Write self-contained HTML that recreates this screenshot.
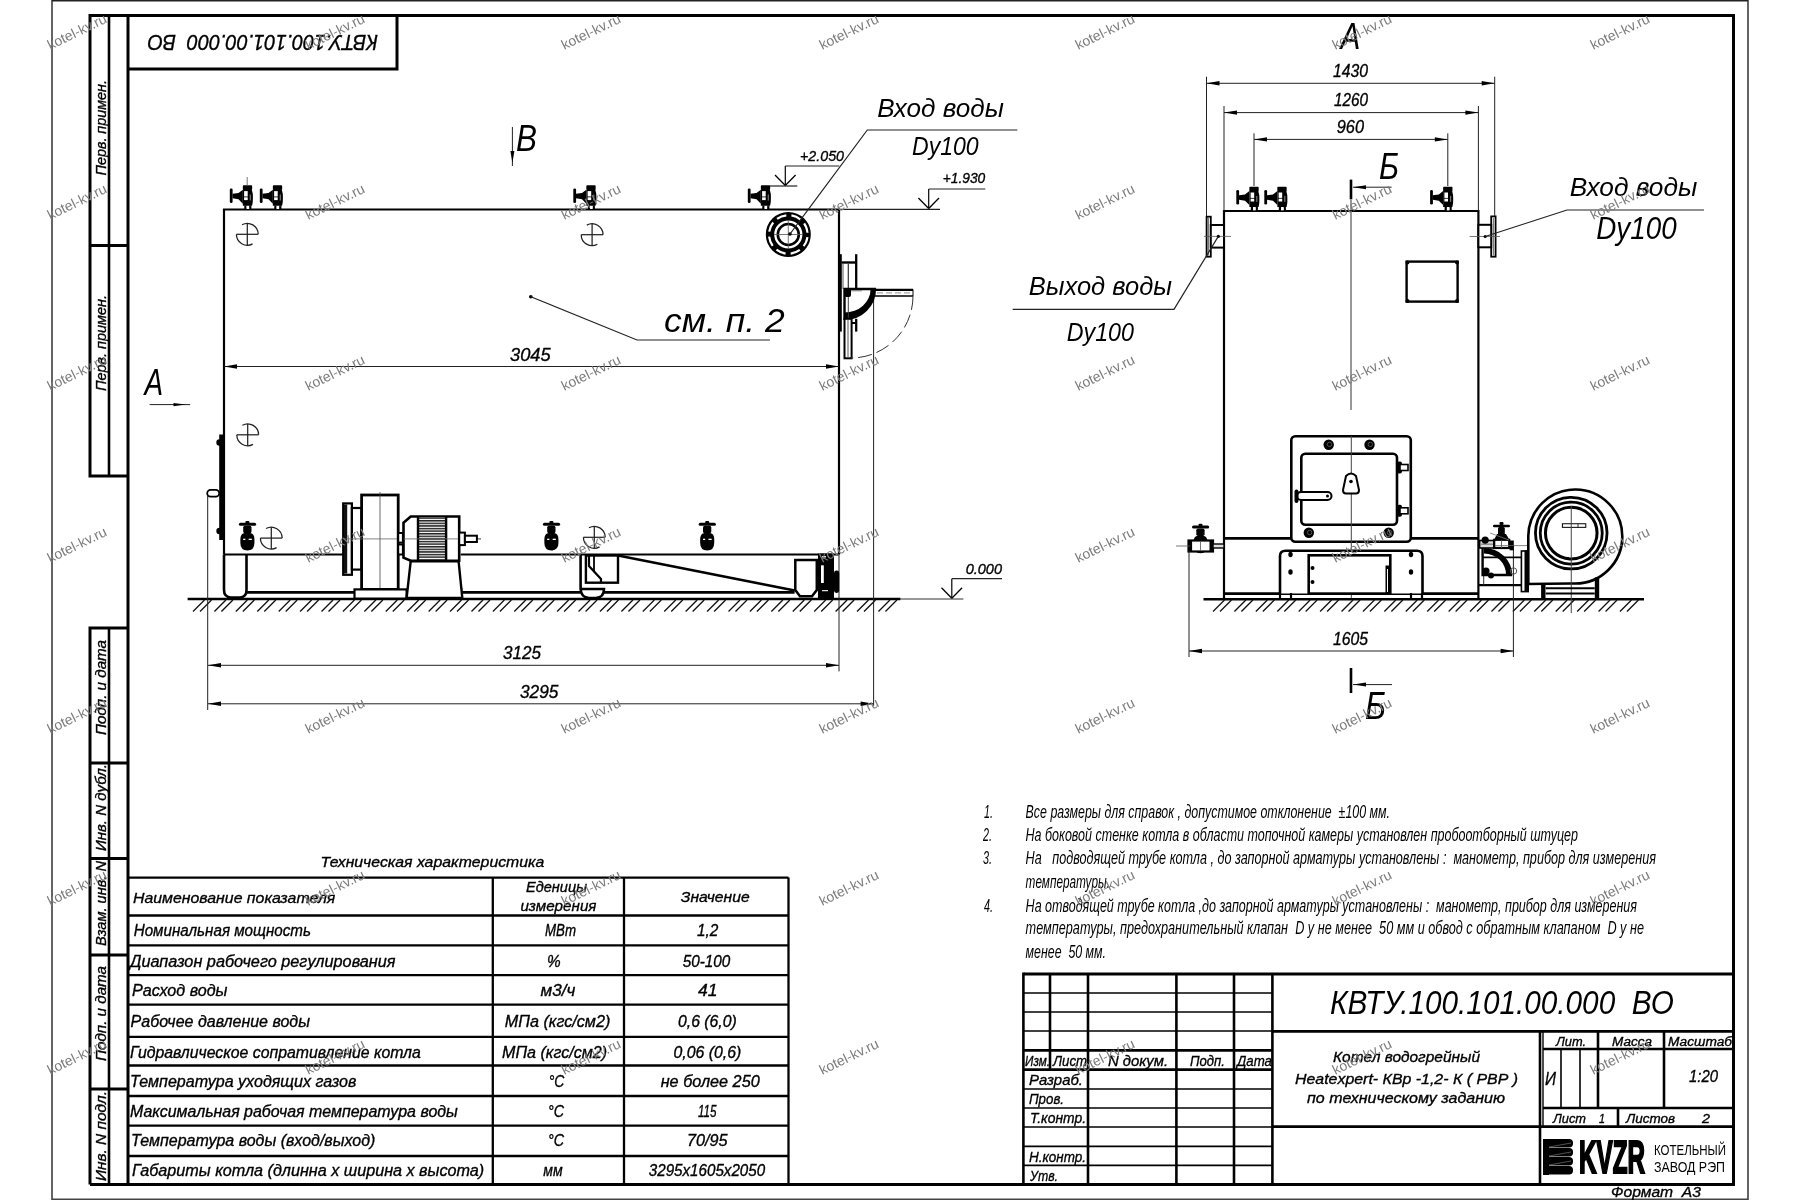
<!DOCTYPE html>
<html><head><meta charset="utf-8"><title>КВТУ.100.101.00.000 ВО</title>
<style>
html,body{margin:0;padding:0;background:#fff;width:1800px;height:1200px;overflow:hidden}
svg{display:block}
text{font-family:"Liberation Sans",sans-serif;white-space:pre}
.it{font-style:italic;stroke:#000;stroke-width:0.35px}
.nt{font-style:italic}
.itb{font-style:italic}
.bd{font-weight:bold}
.rg{font-style:normal}
.wm{fill:#7c7c7c}
</style></head><body>
<svg width="1800" height="1200" viewBox="0 0 1800 1200" stroke-linecap="butt">
<defs>
<pattern id="ribs" width="4" height="2.6" patternUnits="userSpaceOnUse">
<rect width="4" height="2.6" fill="#fff"/><rect y="0" width="4" height="1.5" fill="#222"/>
</pattern>
</defs>
<rect width="1800" height="1200" fill="#fff"/>
<g style="will-change:transform" opacity="0.999">
<line x1="52" y1="0" x2="52" y2="1200" stroke="#111" stroke-width="1.3" />
<line x1="1748" y1="0" x2="1748" y2="1200" stroke="#111" stroke-width="1.3" />
<line x1="52" y1="0.6" x2="1748" y2="0.6" stroke="#222" stroke-width="1.6" />
<line x1="52" y1="1199.2" x2="1748" y2="1199.2" stroke="#444" stroke-width="1.6" />
<path d="M90,15.5 H1733.5 V1184.5 H90" stroke="#000" stroke-width="3.0" fill="none" />
<line x1="128" y1="15.5" x2="128" y2="1184.5" stroke="#000" stroke-width="3.0" />
<path d="M128,15.5 H90 V476 H128" stroke="#000" stroke-width="3.0" fill="none" />
<line x1="109" y1="15.5" x2="109" y2="476" stroke="#000" stroke-width="2.6" />
<line x1="90" y1="245.5" x2="128" y2="245.5" stroke="#000" stroke-width="3.0" />
<path d="M128,628 H90 V1184.5" stroke="#000" stroke-width="3.0" fill="none" />
<line x1="109" y1="628" x2="109" y2="1184.5" stroke="#000" stroke-width="2.6" />
<line x1="90" y1="763" x2="128" y2="763" stroke="#000" stroke-width="3.0" />
<line x1="90" y1="858.5" x2="128" y2="858.5" stroke="#000" stroke-width="3.0" />
<line x1="90" y1="955" x2="128" y2="955" stroke="#000" stroke-width="3.0" />
<line x1="90" y1="1089" x2="128" y2="1089" stroke="#000" stroke-width="3.0" />
<path d="M128,69 H397 V15.5" stroke="#000" stroke-width="3.0" fill="none" />
<text x="105.75" y="175.5" font-size="14.4" class="it" text-anchor="start" fill="#000" textLength="95.5" lengthAdjust="spacingAndGlyphs" transform="rotate(-90 105.75 175.5)" >Перв. примен.</text>
<text x="105.75" y="391" font-size="14.4" class="it" text-anchor="start" fill="#000" textLength="96" lengthAdjust="spacingAndGlyphs" transform="rotate(-90 105.75 391)" >Перв. примен.</text>
<text x="105.75" y="735" font-size="14.4" class="it" text-anchor="start" fill="#000" textLength="95" lengthAdjust="spacingAndGlyphs" transform="rotate(-90 105.75 735)" >Подп. и дата</text>
<text x="105.75" y="851" font-size="14.4" class="it" text-anchor="start" fill="#000" textLength="87" lengthAdjust="spacingAndGlyphs" transform="rotate(-90 105.75 851)" >Инв. N дубл.</text>
<text x="105.75" y="946" font-size="14.4" class="it" text-anchor="start" fill="#000" textLength="85" lengthAdjust="spacingAndGlyphs" transform="rotate(-90 105.75 946)" >Взам. инв. N</text>
<text x="105.75" y="1061" font-size="14.4" class="it" text-anchor="start" fill="#000" textLength="95" lengthAdjust="spacingAndGlyphs" transform="rotate(-90 105.75 1061)" >Подп. и дата</text>
<text x="105.75" y="1181" font-size="14.4" class="it" text-anchor="start" fill="#000" textLength="90" lengthAdjust="spacingAndGlyphs" transform="rotate(-90 105.75 1181)" >Инв. N подл.</text>
<text x="378" y="34.7" font-size="21.4" class="it" text-anchor="start" fill="#000" textLength="230.4" lengthAdjust="spacingAndGlyphs" transform="rotate(180 378 34.7)" >КВТУ.100.101.00.000  ВО</text>
<path d="M224,554.5 V209.5 H839 V554.5" stroke="#000" stroke-width="2.2" fill="none" />
<line x1="224" y1="554.5" x2="343" y2="554.5" stroke="#000" stroke-width="2.2" />
<line x1="460.7" y1="554.5" x2="839" y2="554.5" stroke="#000" stroke-width="2.2" />
<rect x="242.85" y="185.3" width="9.3" height="4.8" fill="#000" rx="0.8"/>
<path d="M242.85,189.7 H251.8 Q253.1,193.5 252.9,197.5 Q253.1,201.5 252.1,205.7 H242.85 Z" stroke="#000" stroke-width="0" fill="#000" />
<rect x="244.1" y="191.1" width="3.6" height="5.4" fill="#fff" rx="0"/>
<rect x="244.1" y="197.3" width="3.6" height="2.8" fill="#fff" rx="0"/>
<rect x="249.7" y="194.5" width="1.2" height="6" fill="#777" rx="0"/>
<rect x="244.3" y="205.5" width="2.3" height="4.3" fill="#000" rx="0"/>
<rect x="249.1" y="205.5" width="2.3" height="4.3" fill="#000" rx="0"/>
<rect x="246.6" y="206.0" width="2.5" height="3" fill="#fff" rx="0"/>
<rect x="229.8" y="188.5" width="2.8" height="14.6" fill="#000" rx="1.3"/>
<polygon points="232.5,193.8 238.5,193.0 242.85,189.7 242.85,203.7 238.5,199.3 232.5,198.3" stroke="#000" stroke-width="0" fill="#000" />
<rect x="272.85" y="185.3" width="9.3" height="4.8" fill="#000" rx="0.8"/>
<path d="M272.85,189.7 H281.8 Q283.1,193.5 282.9,197.5 Q283.1,201.5 282.1,205.7 H272.85 Z" stroke="#000" stroke-width="0" fill="#000" />
<rect x="274.1" y="191.1" width="3.6" height="5.4" fill="#fff" rx="0"/>
<rect x="274.1" y="197.3" width="3.6" height="2.8" fill="#fff" rx="0"/>
<rect x="279.7" y="194.5" width="1.2" height="6" fill="#777" rx="0"/>
<rect x="274.3" y="205.5" width="2.3" height="4.3" fill="#000" rx="0"/>
<rect x="279.1" y="205.5" width="2.3" height="4.3" fill="#000" rx="0"/>
<rect x="276.6" y="206.0" width="2.5" height="3" fill="#fff" rx="0"/>
<rect x="259.8" y="188.5" width="2.8" height="14.6" fill="#000" rx="1.3"/>
<polygon points="262.5,193.8 268.5,193.0 272.85,189.7 272.85,203.7 268.5,199.3 262.5,198.3" stroke="#000" stroke-width="0" fill="#000" />
<rect x="586.35" y="185.3" width="9.3" height="4.8" fill="#000" rx="0.8"/>
<path d="M586.35,189.7 H595.3 Q596.6,193.5 596.4,197.5 Q596.6,201.5 595.6,205.7 H586.35 Z" stroke="#000" stroke-width="0" fill="#000" />
<rect x="587.6" y="191.1" width="3.6" height="5.4" fill="#fff" rx="0"/>
<rect x="587.6" y="197.3" width="3.6" height="2.8" fill="#fff" rx="0"/>
<rect x="593.2" y="194.5" width="1.2" height="6" fill="#777" rx="0"/>
<rect x="587.8" y="205.5" width="2.3" height="4.3" fill="#000" rx="0"/>
<rect x="592.6" y="205.5" width="2.3" height="4.3" fill="#000" rx="0"/>
<rect x="590.1" y="206.0" width="2.5" height="3" fill="#fff" rx="0"/>
<rect x="573.3" y="188.5" width="2.8" height="14.6" fill="#000" rx="1.3"/>
<polygon points="576,193.8 582,193.0 586.35,189.7 586.35,203.7 582,199.3 576,198.3" stroke="#000" stroke-width="0" fill="#000" />
<rect x="760.85" y="185.3" width="9.3" height="4.8" fill="#000" rx="0.8"/>
<path d="M760.85,189.7 H769.8 Q771.1,193.5 770.9,197.5 Q771.1,201.5 770.1,205.7 H760.85 Z" stroke="#000" stroke-width="0" fill="#000" />
<rect x="762.1" y="191.1" width="3.6" height="5.4" fill="#fff" rx="0"/>
<rect x="762.1" y="197.3" width="3.6" height="2.8" fill="#fff" rx="0"/>
<rect x="767.7" y="194.5" width="1.2" height="6" fill="#777" rx="0"/>
<rect x="762.3" y="205.5" width="2.3" height="4.3" fill="#000" rx="0"/>
<rect x="767.1" y="205.5" width="2.3" height="4.3" fill="#000" rx="0"/>
<rect x="764.6" y="206.0" width="2.5" height="3" fill="#fff" rx="0"/>
<rect x="747.8" y="188.5" width="2.8" height="14.6" fill="#000" rx="1.3"/>
<polygon points="750.5,193.8 756.5,193.0 760.85,189.7 760.85,203.7 756.5,199.3 750.5,198.3" stroke="#000" stroke-width="0" fill="#000" />
<line x1="247.2" y1="177" x2="247.2" y2="186" stroke="#555" stroke-width="0.8" />
<path d="M242.01,224.76 A10.9,10.9 0 0 1 258.20,234.30 M252.59,243.84 A10.9,10.9 0 0 1 236.40,234.30" stroke="#222" stroke-width="1.25" fill="none" />
<line x1="236.4" y1="234.3" x2="258.2" y2="234.3" stroke="#222" stroke-width="1.25" />
<line x1="247.3" y1="223.4" x2="247.3" y2="245.20000000000002" stroke="#222" stroke-width="1.25" />
<path d="M586.81,225.16 A10.9,10.9 0 0 1 603.00,234.70 M597.39,244.24 A10.9,10.9 0 0 1 581.20,234.70" stroke="#222" stroke-width="1.25" fill="none" />
<line x1="581.1999999999999" y1="234.70000000000002" x2="602.9999999999999" y2="234.70000000000002" stroke="#222" stroke-width="1.25" />
<line x1="592.0999999999999" y1="223.8" x2="592.0999999999999" y2="245.60000000000002" stroke="#222" stroke-width="1.25" />
<path d="M242.41,425.26 A10.9,10.9 0 0 1 258.60,434.80 M252.99,444.34 A10.9,10.9 0 0 1 236.80,434.80" stroke="#222" stroke-width="1.25" fill="none" />
<line x1="236.8" y1="434.8" x2="258.6" y2="434.8" stroke="#222" stroke-width="1.25" />
<line x1="247.70000000000002" y1="423.90000000000003" x2="247.70000000000002" y2="445.7" stroke="#222" stroke-width="1.25" />
<path d="M266.01,528.56 A10.9,10.9 0 0 1 282.20,538.10 M276.59,547.64 A10.9,10.9 0 0 1 260.40,538.10" stroke="#222" stroke-width="1.25" fill="none" />
<line x1="260.40000000000003" y1="538.0999999999999" x2="282.2" y2="538.0999999999999" stroke="#222" stroke-width="1.25" />
<line x1="271.3" y1="527.1999999999999" x2="271.3" y2="548.9999999999999" stroke="#222" stroke-width="1.25" />
<path d="M589.01,527.76 A10.9,10.9 0 0 1 605.20,537.30 M599.59,546.84 A10.9,10.9 0 0 1 583.40,537.30" stroke="#222" stroke-width="1.25" fill="none" />
<line x1="583.4" y1="537.3" x2="605.1999999999999" y2="537.3" stroke="#222" stroke-width="1.25" />
<line x1="594.3" y1="526.4" x2="594.3" y2="548.1999999999999" stroke="#222" stroke-width="1.25" />
<circle cx="788.3" cy="234.5" r="18.3" stroke="#000" stroke-width="8.4" fill="#fff" />
<circle cx="788.3" cy="234.5" r="19.3" stroke="#fff" stroke-width="2.2" fill="none" stroke-dasharray="9.9 5.26" stroke-dashoffset="-2.63"/>
<circle cx="788.3" cy="234.5" r="10.5" stroke="#000" stroke-width="2.6" fill="none" />
<line x1="774" y1="234.5" x2="802.5" y2="234.5" stroke="#555" stroke-width="0.8" />
<line x1="788.3" y1="220" x2="788.3" y2="249" stroke="#555" stroke-width="0.8" />
<circle cx="790" cy="234" r="1.8" stroke="#000" stroke-width="0" fill="#000" />
<line x1="187.6" y1="599" x2="900.4" y2="599" stroke="#000" stroke-width="2.4" />
<line x1="900" y1="599" x2="963.4" y2="599" stroke="#333" stroke-width="1.0" />
<line x1="193" y1="611.5" x2="204.5" y2="600.0" stroke="#111" stroke-width="1.3" />
<line x1="200.0" y1="611.5" x2="211.5" y2="600.0" stroke="#111" stroke-width="1.3" />
<line x1="214.42" y1="611.5" x2="225.92" y2="600.0" stroke="#111" stroke-width="1.3" />
<line x1="221.42" y1="611.5" x2="232.92" y2="600.0" stroke="#111" stroke-width="1.3" />
<line x1="235.84" y1="611.5" x2="247.34" y2="600.0" stroke="#111" stroke-width="1.3" />
<line x1="242.84" y1="611.5" x2="254.34" y2="600.0" stroke="#111" stroke-width="1.3" />
<line x1="257.26" y1="611.5" x2="268.76" y2="600.0" stroke="#111" stroke-width="1.3" />
<line x1="264.26" y1="611.5" x2="275.76" y2="600.0" stroke="#111" stroke-width="1.3" />
<line x1="278.68" y1="611.5" x2="290.18" y2="600.0" stroke="#111" stroke-width="1.3" />
<line x1="285.68" y1="611.5" x2="297.18" y2="600.0" stroke="#111" stroke-width="1.3" />
<line x1="300.1" y1="611.5" x2="311.6" y2="600.0" stroke="#111" stroke-width="1.3" />
<line x1="307.1" y1="611.5" x2="318.6" y2="600.0" stroke="#111" stroke-width="1.3" />
<line x1="321.52" y1="611.5" x2="333.02" y2="600.0" stroke="#111" stroke-width="1.3" />
<line x1="328.52" y1="611.5" x2="340.02" y2="600.0" stroke="#111" stroke-width="1.3" />
<line x1="342.94" y1="611.5" x2="354.44" y2="600.0" stroke="#111" stroke-width="1.3" />
<line x1="349.94" y1="611.5" x2="361.44" y2="600.0" stroke="#111" stroke-width="1.3" />
<line x1="364.36" y1="611.5" x2="375.86" y2="600.0" stroke="#111" stroke-width="1.3" />
<line x1="371.36" y1="611.5" x2="382.86" y2="600.0" stroke="#111" stroke-width="1.3" />
<line x1="385.78" y1="611.5" x2="397.28" y2="600.0" stroke="#111" stroke-width="1.3" />
<line x1="392.78" y1="611.5" x2="404.28" y2="600.0" stroke="#111" stroke-width="1.3" />
<line x1="407.2" y1="611.5" x2="418.7" y2="600.0" stroke="#111" stroke-width="1.3" />
<line x1="414.2" y1="611.5" x2="425.7" y2="600.0" stroke="#111" stroke-width="1.3" />
<line x1="428.62" y1="611.5" x2="440.12" y2="600.0" stroke="#111" stroke-width="1.3" />
<line x1="435.62" y1="611.5" x2="447.12" y2="600.0" stroke="#111" stroke-width="1.3" />
<line x1="450.04" y1="611.5" x2="461.54" y2="600.0" stroke="#111" stroke-width="1.3" />
<line x1="457.04" y1="611.5" x2="468.54" y2="600.0" stroke="#111" stroke-width="1.3" />
<line x1="471.46" y1="611.5" x2="482.96" y2="600.0" stroke="#111" stroke-width="1.3" />
<line x1="478.46" y1="611.5" x2="489.96" y2="600.0" stroke="#111" stroke-width="1.3" />
<line x1="492.88" y1="611.5" x2="504.38" y2="600.0" stroke="#111" stroke-width="1.3" />
<line x1="499.88" y1="611.5" x2="511.38" y2="600.0" stroke="#111" stroke-width="1.3" />
<line x1="514.3" y1="611.5" x2="525.8" y2="600.0" stroke="#111" stroke-width="1.3" />
<line x1="521.3" y1="611.5" x2="532.8" y2="600.0" stroke="#111" stroke-width="1.3" />
<line x1="535.72" y1="611.5" x2="547.22" y2="600.0" stroke="#111" stroke-width="1.3" />
<line x1="542.72" y1="611.5" x2="554.22" y2="600.0" stroke="#111" stroke-width="1.3" />
<line x1="557.14" y1="611.5" x2="568.64" y2="600.0" stroke="#111" stroke-width="1.3" />
<line x1="564.14" y1="611.5" x2="575.64" y2="600.0" stroke="#111" stroke-width="1.3" />
<line x1="578.56" y1="611.5" x2="590.06" y2="600.0" stroke="#111" stroke-width="1.3" />
<line x1="585.56" y1="611.5" x2="597.06" y2="600.0" stroke="#111" stroke-width="1.3" />
<line x1="599.98" y1="611.5" x2="611.48" y2="600.0" stroke="#111" stroke-width="1.3" />
<line x1="606.98" y1="611.5" x2="618.48" y2="600.0" stroke="#111" stroke-width="1.3" />
<line x1="621.4" y1="611.5" x2="632.9" y2="600.0" stroke="#111" stroke-width="1.3" />
<line x1="628.4" y1="611.5" x2="639.9" y2="600.0" stroke="#111" stroke-width="1.3" />
<line x1="642.82" y1="611.5" x2="654.32" y2="600.0" stroke="#111" stroke-width="1.3" />
<line x1="649.82" y1="611.5" x2="661.32" y2="600.0" stroke="#111" stroke-width="1.3" />
<line x1="664.24" y1="611.5" x2="675.74" y2="600.0" stroke="#111" stroke-width="1.3" />
<line x1="671.24" y1="611.5" x2="682.74" y2="600.0" stroke="#111" stroke-width="1.3" />
<line x1="685.66" y1="611.5" x2="697.16" y2="600.0" stroke="#111" stroke-width="1.3" />
<line x1="692.66" y1="611.5" x2="704.16" y2="600.0" stroke="#111" stroke-width="1.3" />
<line x1="707.08" y1="611.5" x2="718.58" y2="600.0" stroke="#111" stroke-width="1.3" />
<line x1="714.08" y1="611.5" x2="725.58" y2="600.0" stroke="#111" stroke-width="1.3" />
<line x1="728.5" y1="611.5" x2="740.0" y2="600.0" stroke="#111" stroke-width="1.3" />
<line x1="735.5" y1="611.5" x2="747.0" y2="600.0" stroke="#111" stroke-width="1.3" />
<line x1="749.92" y1="611.5" x2="761.42" y2="600.0" stroke="#111" stroke-width="1.3" />
<line x1="756.92" y1="611.5" x2="768.42" y2="600.0" stroke="#111" stroke-width="1.3" />
<line x1="771.34" y1="611.5" x2="782.84" y2="600.0" stroke="#111" stroke-width="1.3" />
<line x1="778.34" y1="611.5" x2="789.84" y2="600.0" stroke="#111" stroke-width="1.3" />
<line x1="792.76" y1="611.5" x2="804.26" y2="600.0" stroke="#111" stroke-width="1.3" />
<line x1="799.76" y1="611.5" x2="811.26" y2="600.0" stroke="#111" stroke-width="1.3" />
<line x1="814.18" y1="611.5" x2="825.68" y2="600.0" stroke="#111" stroke-width="1.3" />
<line x1="821.18" y1="611.5" x2="832.68" y2="600.0" stroke="#111" stroke-width="1.3" />
<line x1="835.6" y1="611.5" x2="847.1" y2="600.0" stroke="#111" stroke-width="1.3" />
<line x1="842.6" y1="611.5" x2="854.1" y2="600.0" stroke="#111" stroke-width="1.3" />
<line x1="857.02" y1="611.5" x2="868.52" y2="600.0" stroke="#111" stroke-width="1.3" />
<line x1="864.02" y1="611.5" x2="875.52" y2="600.0" stroke="#111" stroke-width="1.3" />
<line x1="878.44" y1="611.5" x2="889.94" y2="600.0" stroke="#111" stroke-width="1.3" />
<line x1="885.44" y1="611.5" x2="896.94" y2="600.0" stroke="#111" stroke-width="1.3" />
<line x1="207.7" y1="496" x2="207.7" y2="710" stroke="#222" stroke-width="1.0" />
<line x1="839" y1="554" x2="839" y2="671.4" stroke="#222" stroke-width="1.0" />
<line x1="873.6" y1="296" x2="873.6" y2="705.7" stroke="#222" stroke-width="1.0" />
<line x1="208" y1="665.3" x2="839" y2="665.3" stroke="#222" stroke-width="1.0" />
<polygon points="208,665.3 221.00,663.10 221.00,667.50" fill="#000"/>
<polygon points="839,665.3 826.00,667.50 826.00,663.10" fill="#000"/>
<line x1="208" y1="703.8" x2="873.6" y2="703.8" stroke="#222" stroke-width="1.0" />
<polygon points="208,703.8 221.00,701.60 221.00,706.00" fill="#000"/>
<polygon points="873.6,703.8 860.60,706.00 860.60,701.60" fill="#000"/>
<line x1="224" y1="366.5" x2="839" y2="366.5" stroke="#222" stroke-width="1.0" />
<polygon points="224,366.5 237.00,364.30 237.00,368.70" fill="#000"/>
<polygon points="839,366.5 826.00,368.70 826.00,364.30" fill="#000"/>
<text x="510" y="361" font-size="19.2" class="it" text-anchor="start" fill="#000" textLength="40.6" lengthAdjust="spacingAndGlyphs" >3045</text>
<text x="503" y="659" font-size="18.52" class="it" text-anchor="start" fill="#000" textLength="38" lengthAdjust="spacingAndGlyphs" >3125</text>
<text x="520" y="698" font-size="18.93" class="it" text-anchor="start" fill="#000" textLength="38.5" lengthAdjust="spacingAndGlyphs" >3295</text>
<path d="M224,554.5 V590 Q224,597 231,597.5 H240 Q246.5,597 246.5,590 V554.5" stroke="#000" stroke-width="2.6" fill="none" />
<line x1="246.5" y1="592.4" x2="354.5" y2="592.4" stroke="#000" stroke-width="2.6" />
<line x1="462.3" y1="592.4" x2="580.6" y2="592.4" stroke="#000" stroke-width="2.6" />
<line x1="604" y1="592.4" x2="794.6" y2="592.4" stroke="#000" stroke-width="2.6" />
<rect x="219.2" y="434.5" width="4.8" height="105.5" fill="#000" rx="0"/>
<circle cx="219.5" cy="442.5" r="3.2" stroke="#000" stroke-width="0" fill="#000" />
<circle cx="219.5" cy="531" r="3.2" stroke="#000" stroke-width="0" fill="#000" />
<rect x="207.2" y="489.8" width="12" height="6.8" stroke="#000" stroke-width="1.8" fill="#fff" rx="3.4" />
<rect x="238.9" y="522.8" width="17.2" height="3.0" fill="#000" rx="1.5"/>
<rect x="245.4" y="521.0" width="4" height="2.5" fill="#000" rx="1"/>
<rect x="243.20000000000002" y="525.8" width="8.3" height="7.6" fill="#000" rx="1.8"/>
<path d="M240.35,539.8 Q240.35,533.0 244.9,533.0 H249.9 Q254.45000000000002,533.0 254.45000000000002,539.8 V542.8 Q254.45000000000002,550.5 247.4,550.5 Q240.35,550.5 240.35,542.8 Z" stroke="#000" stroke-width="0" fill="#000" />
<rect x="243.15" y="538.6999999999999" width="2.2" height="1.3" fill="#fff" rx="0"/>
<rect x="248.65" y="538.6999999999999" width="3.2" height="1.3" fill="#fff" rx="0"/>
<rect x="542.9" y="522.8" width="17.2" height="3.0" fill="#000" rx="1.5"/>
<rect x="549.4" y="521.0" width="4" height="2.5" fill="#000" rx="1"/>
<rect x="547.1999999999999" y="525.8" width="8.3" height="7.6" fill="#000" rx="1.8"/>
<path d="M544.35,539.8 Q544.35,533.0 548.9,533.0 H553.9 Q558.4499999999999,533.0 558.4499999999999,539.8 V542.8 Q558.4499999999999,550.5 551.4,550.5 Q544.35,550.5 544.35,542.8 Z" stroke="#000" stroke-width="0" fill="#000" />
<rect x="547.15" y="538.6999999999999" width="2.2" height="1.3" fill="#fff" rx="0"/>
<rect x="552.65" y="538.6999999999999" width="3.2" height="1.3" fill="#fff" rx="0"/>
<rect x="698.7" y="522.8" width="17.2" height="3.0" fill="#000" rx="1.5"/>
<rect x="705.2" y="521.0" width="4" height="2.5" fill="#000" rx="1"/>
<rect x="703.0" y="525.8" width="8.3" height="7.6" fill="#000" rx="1.8"/>
<path d="M700.1500000000001,539.8 Q700.1500000000001,533.0 704.7,533.0 H709.7 Q714.25,533.0 714.25,539.8 V542.8 Q714.25,550.5 707.2,550.5 Q700.1500000000001,550.5 700.1500000000001,542.8 Z" stroke="#000" stroke-width="0" fill="#000" />
<rect x="702.95" y="538.6999999999999" width="2.2" height="1.3" fill="#fff" rx="0"/>
<rect x="708.45" y="538.6999999999999" width="3.2" height="1.3" fill="#fff" rx="0"/>
<rect x="343.2" y="503.4" width="8.7" height="71.4" stroke="#000" stroke-width="2.2" fill="#fff" rx="0" />
<rect x="344" y="504.5" width="3.2" height="69" fill="#111" rx="0"/>
<rect x="351.9" y="508" width="9.6" height="61.6" stroke="#000" stroke-width="2.2" fill="#fff" rx="0" />
<rect x="361.6" y="495" width="36.6" height="94.4" stroke="#000" stroke-width="2.8" fill="#fff" rx="0" />
<line x1="380" y1="492" x2="380" y2="599" stroke="#444" stroke-width="0.8" />
<line x1="343" y1="538.9" x2="481" y2="538.9" stroke="#666" stroke-width="0.8" />
<rect x="354.5" y="589.4" width="52.1" height="9.2" stroke="#000" stroke-width="2.2" fill="#fff" rx="0" />
<line x1="406.6" y1="589.4" x2="462.3" y2="589.4" stroke="#000" stroke-width="2.2" />
<rect x="398.2" y="533" width="4.7" height="9.6" stroke="#000" stroke-width="2.0" fill="#fff" rx="0" />
<rect x="398.2" y="544.5" width="4.7" height="10" stroke="#000" stroke-width="2.0" fill="#fff" rx="0" />
<polygon points="403.5,522.7 410.7,516.5 459.2,516.5 459.2,560.7 410.7,560.7 403.5,557.6" stroke="#000" stroke-width="2.6" fill="#fff" />
<rect x="418" y="517.5" width="28.1" height="42.2" fill="url(#ribs)"/>
<line x1="418" y1="516.5" x2="418" y2="560.7" stroke="#000" stroke-width="2.4" />
<line x1="446.1" y1="516.5" x2="446.1" y2="560.7" stroke="#000" stroke-width="2.4" />
<line x1="403.5" y1="538.9" x2="481" y2="538.9" stroke="#666" stroke-width="0.8" />
<polygon points="410.7,561.2 406.6,598 462.3,598 458.6,561.2" stroke="#000" stroke-width="2.4" fill="#fff" />
<rect x="459.2" y="532.6" width="5.7" height="12.5" stroke="#000" stroke-width="2.0" fill="#fff" rx="0" />
<rect x="464.9" y="535.7" width="12" height="6.3" stroke="#000" stroke-width="2.0" fill="#fff" rx="0" />
<path d="M580.6,554.5 V589 Q581,597.5 589,598 H596 Q604,597.5 604,589 H580.6" stroke="#000" stroke-width="2.6" fill="none" />
<rect x="585.9" y="555.5" width="32.1" height="27.2" stroke="#000" stroke-width="2.4" fill="none" rx="0" />
<polyline points="589,556 589,566 601,579 601,582.7" stroke="#000" stroke-width="2.2" fill="none" />
<line x1="594" y1="556" x2="594" y2="571" stroke="#000" stroke-width="1.8" />
<polyline points="618,555.5 794.6,590.5" stroke="#000" stroke-width="2.8" fill="none" />
<path d="M795.3,560 V590 L800,596.3 H812 L816.8,590 V560 Z" stroke="#000" stroke-width="2.5" fill="#fff" />
<rect x="818" y="553.5" width="16" height="44.5" fill="#000" rx="0"/>
<rect x="821" y="565.3" width="2.8" height="17.7" fill="#fff" rx="0"/>
<rect x="822" y="556" width="4" height="1.5" fill="#ddd" rx="0"/>
<rect x="822" y="590" width="6" height="1.5" fill="#ddd" rx="0"/>
<rect x="834" y="570.5" width="5.2" height="22.5" fill="#000" rx="2.4"/>
<rect x="818" y="591.5" width="13" height="7" fill="#000" rx="3"/>
<rect x="839.9" y="254.2" width="1.9" height="77.4" fill="#000" rx="0"/>
<line x1="856.2" y1="254.2" x2="856.2" y2="289" stroke="#000" stroke-width="2.3" />
<line x1="856.2" y1="318.8" x2="856.2" y2="331.6" stroke="#000" stroke-width="2.3" />
<line x1="841.6" y1="262.5" x2="855.5" y2="262.5" stroke="#000" stroke-width="2.4" />
<line x1="848.3" y1="264" x2="848.3" y2="289" stroke="#333" stroke-width="1.2" />
<line x1="843" y1="264" x2="843" y2="289" stroke="#555" stroke-width="1.0" />
<path d="M844.5,289 H874.9 A30.4,29.8 0 0 1 844.5,318.8 Z" stroke="#000" stroke-width="2.4" fill="#fff" />
<path d="M874.9,289 A30.4,29.8 0 0 1 844.5,318.8 L844.5,312.6 A26.1,23.6 0 0 0 870.6,289 Z" stroke="#000" stroke-width="0" fill="#000" />
<rect x="844.5" y="288" width="6.5" height="9" fill="#000" rx="2"/>
<line x1="848.3" y1="297" x2="848.3" y2="318" stroke="#444" stroke-width="1.0" />
<line x1="851" y1="290.8" x2="862" y2="290.8" stroke="#777" stroke-width="1.0" />
<rect x="844.5" y="318.8" width="7.1" height="39.5" stroke="#000" stroke-width="2.0" fill="#fff" rx="0" />
<line x1="848" y1="320" x2="848" y2="357" stroke="#444" stroke-width="0.9" />
<line x1="851.6" y1="323" x2="856" y2="323" stroke="#000" stroke-width="2.0" />
<line x1="874.9" y1="289.8" x2="913" y2="289.8" stroke="#000" stroke-width="2.3" />
<line x1="874.9" y1="296" x2="913" y2="296" stroke="#000" stroke-width="1.6" />
<line x1="877" y1="292.9" x2="911" y2="292.9" stroke="#777" stroke-width="0.8" stroke-dasharray="6 3"/>
<line x1="913" y1="289.5" x2="913" y2="296" stroke="#000" stroke-width="1.0" />
<path d="M913,296 A62,62 0 0 1 851,358" stroke="#333" stroke-width="1.0" fill="none" stroke-dasharray="14 5"/>
<line x1="512.4" y1="127" x2="512.4" y2="166" stroke="#222" stroke-width="1.0" />
<polygon points="512.4,163 510.40,151.00 514.40,151.00" fill="#000"/>
<text x="516" y="150.5" font-size="37.04" class="itb" text-anchor="start" fill="#000" textLength="21" lengthAdjust="spacingAndGlyphs" >В</text>
<line x1="149.6" y1="404.6" x2="190.2" y2="404.6" stroke="#222" stroke-width="1.0" />
<polygon points="185.5,404.6 173.50,406.20 173.50,403.00" fill="#000"/>
<text x="144.4" y="395" font-size="37.04" class="itb" text-anchor="start" fill="#000" textLength="18.6" lengthAdjust="spacingAndGlyphs" >А</text>
<line x1="775.0" y1="175.0" x2="785.3" y2="185.5" stroke="#000" stroke-width="1.3" />
<line x1="785.3" y1="185.5" x2="795.5999999999999" y2="175.0" stroke="#000" stroke-width="1.3" />
<line x1="785.3" y1="185.5" x2="785.3" y2="166.0" stroke="#000" stroke-width="1.2" />
<line x1="785.3" y1="166.0" x2="839.3" y2="166.0" stroke="#222" stroke-width="1.2" />
<text x="800" y="161.3" font-size="15.36" class="it" text-anchor="start" fill="#000" textLength="44" lengthAdjust="spacingAndGlyphs" >+2.050</text>
<line x1="770" y1="186" x2="797.3" y2="186" stroke="#222" stroke-width="1.2" />
<line x1="918.4000000000001" y1="198.0" x2="928.7" y2="208.5" stroke="#000" stroke-width="1.3" />
<line x1="928.7" y1="208.5" x2="939.0" y2="198.0" stroke="#000" stroke-width="1.3" />
<line x1="928.7" y1="208.5" x2="928.7" y2="189.0" stroke="#000" stroke-width="1.2" />
<line x1="928.7" y1="189.0" x2="985.3" y2="189.0" stroke="#222" stroke-width="1.2" />
<text x="942.7" y="183.3" font-size="15.36" class="it" text-anchor="start" fill="#000" textLength="42.6" lengthAdjust="spacingAndGlyphs" >+1.930</text>
<line x1="839" y1="209.4" x2="940" y2="209.4" stroke="#222" stroke-width="1.2" />
<line x1="941.5" y1="587.7" x2="951.8" y2="598.2" stroke="#000" stroke-width="1.3" />
<line x1="951.8" y1="598.2" x2="962.0999999999999" y2="587.7" stroke="#000" stroke-width="1.3" />
<line x1="951.8" y1="598.2" x2="951.8" y2="578.7" stroke="#000" stroke-width="1.2" />
<line x1="951.8" y1="578.7" x2="1002" y2="578.7" stroke="#222" stroke-width="1.2" />
<text x="965.7" y="574.2" font-size="15.36" class="it" text-anchor="start" fill="#000" textLength="36.3" lengthAdjust="spacingAndGlyphs" >0.000</text>
<polyline points="790,234 867.3,130 1017.3,130" stroke="#222" stroke-width="1.2" fill="none" />
<text x="877.3" y="116.7" font-size="26.61" class="itb" text-anchor="start" fill="#000" textLength="126.7" lengthAdjust="spacingAndGlyphs" >Вход воды</text>
<text x="912" y="155.3" font-size="26.61" class="itb" text-anchor="start" fill="#000" textLength="66.7" lengthAdjust="spacingAndGlyphs" >Dу100</text>
<circle cx="530.8" cy="296.7" r="1.8" stroke="#000" stroke-width="0" fill="#000" />
<polyline points="530.8,296.7 637,340 770,340" stroke="#222" stroke-width="1.2" fill="none" />
<text x="664" y="331.6" font-size="32.92" class="itb" text-anchor="start" fill="#000" textLength="120.6" lengthAdjust="spacingAndGlyphs" >см. п. 2</text>
<path d="M1224,599 V211 H1478.4 V599" stroke="#000" stroke-width="2.2" fill="none" />
<line x1="1224" y1="538.4" x2="1291.3" y2="538.4" stroke="#000" stroke-width="2.6" />
<line x1="1410.8" y1="538.4" x2="1478.4" y2="538.4" stroke="#000" stroke-width="2.6" />
<line x1="1224" y1="593.6" x2="1478.4" y2="593.6" stroke="#000" stroke-width="2.6" />
<rect x="1249.35" y="186.70000000000002" width="9.3" height="4.8" fill="#000" rx="0.8"/>
<path d="M1249.35,191.1 H1258.3 Q1259.6,194.9 1259.4,198.9 Q1259.6,202.9 1258.6,207.1 H1249.35 Z" stroke="#000" stroke-width="0" fill="#000" />
<rect x="1250.6" y="192.5" width="3.6" height="5.4" fill="#fff" rx="0"/>
<rect x="1250.6" y="198.70000000000002" width="3.6" height="2.8" fill="#fff" rx="0"/>
<rect x="1256.2" y="195.9" width="1.2" height="6" fill="#777" rx="0"/>
<rect x="1250.8" y="206.9" width="2.3" height="4.3" fill="#000" rx="0"/>
<rect x="1255.6" y="206.9" width="2.3" height="4.3" fill="#000" rx="0"/>
<rect x="1253.1" y="207.4" width="2.5" height="3" fill="#fff" rx="0"/>
<rect x="1236.3" y="189.9" width="2.8" height="14.6" fill="#000" rx="1.3"/>
<polygon points="1239,195.20000000000002 1245,194.4 1249.35,191.1 1249.35,205.1 1245,200.70000000000002 1239,199.70000000000002" stroke="#000" stroke-width="0" fill="#000" />
<rect x="1277.35" y="186.70000000000002" width="9.3" height="4.8" fill="#000" rx="0.8"/>
<path d="M1277.35,191.1 H1286.3 Q1287.6,194.9 1287.4,198.9 Q1287.6,202.9 1286.6,207.1 H1277.35 Z" stroke="#000" stroke-width="0" fill="#000" />
<rect x="1278.6" y="192.5" width="3.6" height="5.4" fill="#fff" rx="0"/>
<rect x="1278.6" y="198.70000000000002" width="3.6" height="2.8" fill="#fff" rx="0"/>
<rect x="1284.2" y="195.9" width="1.2" height="6" fill="#777" rx="0"/>
<rect x="1278.8" y="206.9" width="2.3" height="4.3" fill="#000" rx="0"/>
<rect x="1283.6" y="206.9" width="2.3" height="4.3" fill="#000" rx="0"/>
<rect x="1281.1" y="207.4" width="2.5" height="3" fill="#fff" rx="0"/>
<rect x="1264.3" y="189.9" width="2.8" height="14.6" fill="#000" rx="1.3"/>
<polygon points="1267,195.20000000000002 1273,194.4 1277.35,191.1 1277.35,205.1 1273,200.70000000000002 1267,199.70000000000002" stroke="#000" stroke-width="0" fill="#000" />
<rect x="1443.1499999999999" y="186.70000000000002" width="9.3" height="4.8" fill="#000" rx="0.8"/>
<path d="M1443.1499999999999,191.1 H1452.1 Q1453.3999999999999,194.9 1453.2,198.9 Q1453.3999999999999,202.9 1452.3999999999999,207.1 H1443.1499999999999 Z" stroke="#000" stroke-width="0" fill="#000" />
<rect x="1444.3999999999999" y="192.5" width="3.6" height="5.4" fill="#fff" rx="0"/>
<rect x="1444.3999999999999" y="198.70000000000002" width="3.6" height="2.8" fill="#fff" rx="0"/>
<rect x="1450.0" y="195.9" width="1.2" height="6" fill="#777" rx="0"/>
<rect x="1444.6" y="206.9" width="2.3" height="4.3" fill="#000" rx="0"/>
<rect x="1449.3999999999999" y="206.9" width="2.3" height="4.3" fill="#000" rx="0"/>
<rect x="1446.8999999999999" y="207.4" width="2.5" height="3" fill="#fff" rx="0"/>
<rect x="1430.1" y="189.9" width="2.8" height="14.6" fill="#000" rx="1.3"/>
<polygon points="1432.8,195.20000000000002 1438.8,194.4 1443.1499999999999,191.1 1443.1499999999999,205.1 1438.8,200.70000000000002 1432.8,199.70000000000002" stroke="#000" stroke-width="0" fill="#000" />
<rect x="1206.6" y="216.7" width="4.2" height="40" stroke="#000" stroke-width="1.8" fill="#fff" rx="0" />
<line x1="1208.4" y1="218" x2="1208.4" y2="255.5" stroke="#444" stroke-width="0.8" />
<rect x="1210.8" y="225" width="13.2" height="22.6" stroke="#000" stroke-width="2.0" fill="#fff" rx="0" />
<line x1="1204" y1="236.4" x2="1231" y2="236.4" stroke="#555" stroke-width="0.8" />
<circle cx="1218.3" cy="236.4" r="1.6" stroke="#000" stroke-width="0" fill="#000" />
<rect x="1491.2" y="216.4" width="4.4" height="40.3" stroke="#000" stroke-width="1.8" fill="#fff" rx="0" />
<line x1="1493.4" y1="218" x2="1493.4" y2="255.5" stroke="#444" stroke-width="0.8" />
<rect x="1478.4" y="224.8" width="12.8" height="22.5" stroke="#000" stroke-width="2.0" fill="#fff" rx="0" />
<line x1="1469.7" y1="236.5" x2="1500" y2="236.5" stroke="#555" stroke-width="0.8" />
<circle cx="1485.2" cy="236.5" r="1.6" stroke="#000" stroke-width="0" fill="#000" />
<rect x="1406.6" y="261.6" width="51" height="40" stroke="#000" stroke-width="2.4" fill="none" rx="0" />
<circle cx="1407.5" cy="262.5" r="2.0" stroke="#000" stroke-width="0" fill="#000" />
<circle cx="1457" cy="262.5" r="2.0" stroke="#000" stroke-width="0" fill="#000" />
<circle cx="1407.5" cy="301" r="2.0" stroke="#000" stroke-width="0" fill="#000" />
<circle cx="1457" cy="301" r="2.0" stroke="#000" stroke-width="0" fill="#000" />
<line x1="1206.5" y1="76.7" x2="1206.5" y2="216" stroke="#222" stroke-width="1.0" />
<line x1="1494.7" y1="76.7" x2="1494.7" y2="216" stroke="#222" stroke-width="1.0" />
<line x1="1224" y1="106" x2="1224" y2="211" stroke="#222" stroke-width="1.0" />
<line x1="1478.4" y1="106" x2="1478.4" y2="211" stroke="#222" stroke-width="1.0" />
<line x1="1254" y1="133.3" x2="1254" y2="186" stroke="#222" stroke-width="1.0" />
<line x1="1447.8" y1="133.3" x2="1447.8" y2="186" stroke="#222" stroke-width="1.0" />
<line x1="1206.5" y1="83.3" x2="1494.7" y2="83.3" stroke="#222" stroke-width="1.0" />
<polygon points="1206.5,83.3 1219.50,81.10 1219.50,85.50" fill="#000"/>
<polygon points="1494.7,83.3 1481.70,85.50 1481.70,81.10" fill="#000"/>
<line x1="1224" y1="112.6" x2="1478.4" y2="112.6" stroke="#222" stroke-width="1.0" />
<polygon points="1224,112.6 1237.00,110.40 1237.00,114.80" fill="#000"/>
<polygon points="1478.4,112.6 1465.40,114.80 1465.40,110.40" fill="#000"/>
<line x1="1254" y1="139.4" x2="1447.8" y2="139.4" stroke="#222" stroke-width="1.0" />
<polygon points="1254,139.4 1267.00,137.20 1267.00,141.60" fill="#000"/>
<polygon points="1447.8,139.4 1434.80,141.60 1434.80,137.20" fill="#000"/>
<text x="1333" y="76.7" font-size="18.24" class="it" text-anchor="start" fill="#000" textLength="35" lengthAdjust="spacingAndGlyphs" >1430</text>
<text x="1334" y="106" font-size="18.24" class="it" text-anchor="start" fill="#000" textLength="34" lengthAdjust="spacingAndGlyphs" >1260</text>
<text x="1336.8" y="132.8" font-size="18.93" class="it" text-anchor="start" fill="#000" textLength="27.2" lengthAdjust="spacingAndGlyphs" >960</text>
<text x="1340.6" y="49.3" font-size="36.35" class="itb" text-anchor="start" fill="#000" textLength="19.8" lengthAdjust="spacingAndGlyphs" >А</text>
<text x="1379" y="178.7" font-size="37.59" class="itb" text-anchor="start" fill="#000" textLength="20" lengthAdjust="spacingAndGlyphs" >Б</text>
<line x1="1351" y1="179.6" x2="1351" y2="199.4" stroke="#000" stroke-width="2.6" />
<line x1="1353" y1="187.2" x2="1391.6" y2="187.2" stroke="#222" stroke-width="1.0" />
<polygon points="1353,187.2 1366.00,185.20 1366.00,189.20" fill="#000"/>
<line x1="1351" y1="668" x2="1351" y2="693" stroke="#000" stroke-width="2.6" />
<line x1="1353" y1="684.6" x2="1392" y2="684.6" stroke="#222" stroke-width="1.0" />
<polygon points="1353,684.6 1366.00,682.60 1366.00,686.60" fill="#000"/>
<text x="1365" y="719" font-size="38.41" class="itb" text-anchor="start" fill="#000" textLength="21" lengthAdjust="spacingAndGlyphs" >Б</text>
<line x1="1351" y1="200" x2="1351" y2="410" stroke="#333" stroke-width="1.0" />
<polyline points="1218.3,236.4 1174,309.3 1012.7,309.3" stroke="#222" stroke-width="1.2" fill="none" />
<text x="1028.7" y="295.3" font-size="26.47" class="itb" text-anchor="start" fill="#000" textLength="143.3" lengthAdjust="spacingAndGlyphs" >Выход воды</text>
<text x="1066.7" y="340.7" font-size="26.61" class="itb" text-anchor="start" fill="#000" textLength="67.3" lengthAdjust="spacingAndGlyphs" >Dу100</text>
<polyline points="1485.2,236.5 1567,210 1704,210" stroke="#222" stroke-width="1.2" fill="none" />
<text x="1569.8" y="196.3" font-size="25.1" class="itb" text-anchor="start" fill="#000" textLength="127.5" lengthAdjust="spacingAndGlyphs" >Вход воды</text>
<text x="1596.3" y="239.3" font-size="31.0" class="itb" text-anchor="start" fill="#000" textLength="80.3" lengthAdjust="spacingAndGlyphs" >Dу100</text>
<rect x="1291.3" y="436.2" width="119.5" height="105.5" stroke="#000" stroke-width="2.6" fill="#fff" rx="4" />
<rect x="1301.3" y="453.8" width="95.7" height="70.9" stroke="#000" stroke-width="2.6" fill="#fff" rx="4" />
<line x1="1351.3" y1="436" x2="1351.3" y2="599" stroke="#444" stroke-width="1.0" />
<circle cx="1328.7" cy="444.7" r="5.2" stroke="#000" stroke-width="0" fill="#000" />
<circle cx="1329.5" cy="444.4" r="2.2" stroke="#666" stroke-width="0.8" fill="none" />
<circle cx="1369.5" cy="444.7" r="5.2" stroke="#000" stroke-width="0" fill="#000" />
<circle cx="1370.3" cy="444.4" r="2.2" stroke="#666" stroke-width="0.8" fill="none" />
<circle cx="1308.8" cy="532.8" r="5.2" stroke="#000" stroke-width="0" fill="#000" />
<circle cx="1309.6" cy="532.5" r="2.2" stroke="#666" stroke-width="0.8" fill="none" />
<circle cx="1388.7" cy="532.8" r="5.2" stroke="#000" stroke-width="0" fill="#000" />
<circle cx="1389.5" cy="532.5" r="2.2" stroke="#666" stroke-width="0.8" fill="none" />
<path d="M1346,476 Q1351,471 1356,476 L1359,490 Q1359,493.5 1356,493.5 H1346 Q1343,493.5 1343,490 Z" stroke="#000" stroke-width="2.0" fill="#fff" />
<circle cx="1351" cy="481.5" r="1.8" stroke="#000" stroke-width="0" fill="#000" />
<rect x="1297" y="492" width="34.5" height="8" stroke="#000" stroke-width="2.0" fill="#fff" rx="4" />
<rect x="1294.5" y="489.5" width="4" height="13.5" fill="#000" rx="2"/>
<circle cx="1327.5" cy="496" r="1.5" stroke="#000" stroke-width="0" fill="#000" />
<rect x="1397" y="461.5" width="5" height="12" fill="#000" rx="2"/>
<rect x="1400" y="464.5" width="8" height="6" stroke="#000" stroke-width="1.6" fill="#fff" rx="0" />
<rect x="1397" y="504.8" width="5" height="12" fill="#000" rx="2"/>
<rect x="1400" y="507.8" width="8" height="6" stroke="#000" stroke-width="1.6" fill="#fff" rx="0" />
<path d="M1280,593.6 V556 Q1280,550.8 1285.5,550.8 H1417 Q1422.5,550.8 1422.5,556 V593.6" stroke="#000" stroke-width="2.6" fill="#fff" />
<rect x="1308.7" y="555.3" width="81.6" height="38.3" stroke="#000" stroke-width="2.6" fill="#fff" rx="0" />
<ellipse cx="1290.5" cy="554.5" rx="2.2" ry="2.8" fill="#000"/>
<ellipse cx="1290.5" cy="572" rx="2.2" ry="2.8" fill="#000"/>
<ellipse cx="1411" cy="554.5" rx="2.2" ry="2.8" fill="#000"/>
<ellipse cx="1411" cy="572" rx="2.2" ry="2.8" fill="#000"/>
<circle cx="1312.5" cy="568" r="2" stroke="#000" stroke-width="0" fill="#000" />
<circle cx="1312.5" cy="582" r="2" stroke="#000" stroke-width="0" fill="#000" />
<rect x="1385.5" y="565.5" width="3.5" height="28" fill="#000" rx="0"/>
<line x1="1387.5" y1="569" x2="1387.5" y2="592" stroke="#fff" stroke-width="1.0" />
<line x1="1224" y1="599" x2="1280" y2="599" stroke="#000" stroke-width="1" />
<line x1="1280" y1="593" x2="1280" y2="599" stroke="#000" stroke-width="2.2" />
<line x1="1291" y1="593" x2="1291" y2="599" stroke="#000" stroke-width="2.2" />
<line x1="1411" y1="593" x2="1411" y2="599" stroke="#000" stroke-width="2.2" />
<line x1="1422" y1="593" x2="1422" y2="599" stroke="#000" stroke-width="2.2" />
<rect x="1192.0" y="525.5" width="17.2" height="3.0" fill="#000" rx="1.5"/>
<rect x="1198.5" y="523.7" width="4" height="2.5" fill="#000" rx="1"/>
<rect x="1196.3" y="528.5" width="8.3" height="7.6" fill="#000" rx="1.8"/>
<path d="M1193.45,542.5 Q1193.45,535.7 1198.0,535.7 H1203.0 Q1207.55,535.7 1207.55,542.5 V545.5 Q1207.55,553.2 1200.5,553.2 Q1193.45,553.2 1193.45,545.5 Z" stroke="#000" stroke-width="0" fill="#000" />
<rect x="1196.25" y="541.4" width="2.2" height="1.3" fill="#fff" rx="0"/>
<rect x="1201.75" y="541.4" width="3.2" height="1.3" fill="#fff" rx="0"/>
<rect x="1188.5" y="540.5" width="24.5" height="11" stroke="#000" stroke-width="2.2" fill="#fff" rx="0" />
<rect x="1188.5" y="540.5" width="3.6" height="11" fill="#000" rx="0"/>
<rect x="1209.5" y="540.5" width="3.6" height="11" fill="#000" rx="0"/>
<line x1="1200.5" y1="541" x2="1200.5" y2="551" stroke="#555" stroke-width="0.8" />
<rect x="1213" y="544" width="11" height="4" stroke="#000" stroke-width="1.4" fill="#ddd" rx="0" />
<line x1="1176" y1="546" x2="1190" y2="546" stroke="#555" stroke-width="0.8" />
<line x1="1189" y1="551" x2="1189" y2="657" stroke="#222" stroke-width="1.0" />
<line x1="1203.5" y1="599.2" x2="1644" y2="599.2" stroke="#000" stroke-width="2.4" />
<line x1="1213" y1="611.5" x2="1224.5" y2="600.0" stroke="#111" stroke-width="1.3" />
<line x1="1220.0" y1="611.5" x2="1231.5" y2="600.0" stroke="#111" stroke-width="1.3" />
<line x1="1234.42" y1="611.5" x2="1245.92" y2="600.0" stroke="#111" stroke-width="1.3" />
<line x1="1241.42" y1="611.5" x2="1252.92" y2="600.0" stroke="#111" stroke-width="1.3" />
<line x1="1255.84" y1="611.5" x2="1267.34" y2="600.0" stroke="#111" stroke-width="1.3" />
<line x1="1262.84" y1="611.5" x2="1274.34" y2="600.0" stroke="#111" stroke-width="1.3" />
<line x1="1277.26" y1="611.5" x2="1288.76" y2="600.0" stroke="#111" stroke-width="1.3" />
<line x1="1284.26" y1="611.5" x2="1295.76" y2="600.0" stroke="#111" stroke-width="1.3" />
<line x1="1298.68" y1="611.5" x2="1310.18" y2="600.0" stroke="#111" stroke-width="1.3" />
<line x1="1305.68" y1="611.5" x2="1317.18" y2="600.0" stroke="#111" stroke-width="1.3" />
<line x1="1320.1" y1="611.5" x2="1331.6" y2="600.0" stroke="#111" stroke-width="1.3" />
<line x1="1327.1" y1="611.5" x2="1338.6" y2="600.0" stroke="#111" stroke-width="1.3" />
<line x1="1341.52" y1="611.5" x2="1353.02" y2="600.0" stroke="#111" stroke-width="1.3" />
<line x1="1348.52" y1="611.5" x2="1360.02" y2="600.0" stroke="#111" stroke-width="1.3" />
<line x1="1362.94" y1="611.5" x2="1374.44" y2="600.0" stroke="#111" stroke-width="1.3" />
<line x1="1369.94" y1="611.5" x2="1381.44" y2="600.0" stroke="#111" stroke-width="1.3" />
<line x1="1384.36" y1="611.5" x2="1395.86" y2="600.0" stroke="#111" stroke-width="1.3" />
<line x1="1391.36" y1="611.5" x2="1402.86" y2="600.0" stroke="#111" stroke-width="1.3" />
<line x1="1405.78" y1="611.5" x2="1417.28" y2="600.0" stroke="#111" stroke-width="1.3" />
<line x1="1412.78" y1="611.5" x2="1424.28" y2="600.0" stroke="#111" stroke-width="1.3" />
<line x1="1427.2" y1="611.5" x2="1438.7" y2="600.0" stroke="#111" stroke-width="1.3" />
<line x1="1434.2" y1="611.5" x2="1445.7" y2="600.0" stroke="#111" stroke-width="1.3" />
<line x1="1448.62" y1="611.5" x2="1460.12" y2="600.0" stroke="#111" stroke-width="1.3" />
<line x1="1455.62" y1="611.5" x2="1467.12" y2="600.0" stroke="#111" stroke-width="1.3" />
<line x1="1470.04" y1="611.5" x2="1481.54" y2="600.0" stroke="#111" stroke-width="1.3" />
<line x1="1477.04" y1="611.5" x2="1488.54" y2="600.0" stroke="#111" stroke-width="1.3" />
<line x1="1491.46" y1="611.5" x2="1502.96" y2="600.0" stroke="#111" stroke-width="1.3" />
<line x1="1498.46" y1="611.5" x2="1509.96" y2="600.0" stroke="#111" stroke-width="1.3" />
<line x1="1512.88" y1="611.5" x2="1524.38" y2="600.0" stroke="#111" stroke-width="1.3" />
<line x1="1519.88" y1="611.5" x2="1531.38" y2="600.0" stroke="#111" stroke-width="1.3" />
<line x1="1534.3" y1="611.5" x2="1545.8" y2="600.0" stroke="#111" stroke-width="1.3" />
<line x1="1541.3" y1="611.5" x2="1552.8" y2="600.0" stroke="#111" stroke-width="1.3" />
<line x1="1555.72" y1="611.5" x2="1567.22" y2="600.0" stroke="#111" stroke-width="1.3" />
<line x1="1562.72" y1="611.5" x2="1574.22" y2="600.0" stroke="#111" stroke-width="1.3" />
<line x1="1577.14" y1="611.5" x2="1588.64" y2="600.0" stroke="#111" stroke-width="1.3" />
<line x1="1584.14" y1="611.5" x2="1595.64" y2="600.0" stroke="#111" stroke-width="1.3" />
<line x1="1598.56" y1="611.5" x2="1610.06" y2="600.0" stroke="#111" stroke-width="1.3" />
<line x1="1605.56" y1="611.5" x2="1617.06" y2="600.0" stroke="#111" stroke-width="1.3" />
<line x1="1619.98" y1="611.5" x2="1631.48" y2="600.0" stroke="#111" stroke-width="1.3" />
<line x1="1626.98" y1="611.5" x2="1638.48" y2="600.0" stroke="#111" stroke-width="1.3" />
<line x1="1189" y1="651" x2="1513.6" y2="651" stroke="#222" stroke-width="1.0" />
<polygon points="1189,651 1202.00,648.80 1202.00,653.20" fill="#000"/>
<polygon points="1513.6,651 1500.60,653.20 1500.60,648.80" fill="#000"/>
<line x1="1513.4" y1="545" x2="1513.4" y2="657" stroke="#222" stroke-width="1.0" />
<text x="1333" y="645" font-size="19.2" class="it" text-anchor="start" fill="#000" textLength="35" lengthAdjust="spacingAndGlyphs" >1605</text>
<line x1="1482.6" y1="557.4" x2="1521" y2="557.4" stroke="#000" stroke-width="1.6" />
<line x1="1478.4" y1="585.1" x2="1521" y2="585.1" stroke="#000" stroke-width="2.2" />
<line x1="1483.7" y1="575" x2="1483.7" y2="585" stroke="#333" stroke-width="1.0" />
<path d="M1482.6,548 V575 H1512.2" stroke="#000" stroke-width="2.4" fill="none" />
<path d="M1484,548 A28.2,27 0 0 1 1512.2,575 L1506,575 A22,21 0 0 0 1484,553.5 Z" stroke="#000" stroke-width="0" fill="#000" />
<circle cx="1486" cy="571" r="3.6" stroke="#000" stroke-width="0" fill="#000" />
<circle cx="1491" cy="575.5" r="3" stroke="#000" stroke-width="0" fill="#000" />
<circle cx="1513.5" cy="571" r="3.2" stroke="#555" stroke-width="1.0" fill="none" />
<rect x="1479.6" y="540.5" width="14.3" height="7.5" stroke="#000" stroke-width="1.6" fill="#ddd" rx="0" />
<line x1="1480.5" y1="544.2" x2="1493" y2="544.2" stroke="#888" stroke-width="1.4" />
<rect x="1494.2" y="539.8" width="15" height="8.2" stroke="#000" stroke-width="2.2" fill="#fff" rx="0" />
<line x1="1501.5" y1="540" x2="1501.5" y2="548" stroke="#555" stroke-width="0.9" />
<rect x="1509.6" y="540.5" width="4.2" height="9.8" fill="#000" rx="0"/>
<circle cx="1485.2" cy="540.1" r="3.6" stroke="#000" stroke-width="0" fill="#000" />
<rect x="1493" y="524.75" width="17" height="2.4" fill="#000" rx="1.2"/>
<rect x="1499.5" y="522.1" width="4" height="3" fill="#000" rx="1"/>
<rect x="1498" y="527" width="6.8" height="8" fill="#000" rx="1.5"/>
<polygon points="1497,534 1506,534 1509.5,540 1494,540" stroke="#000" stroke-width="0" fill="#000" />
<line x1="1490" y1="533" x2="1509" y2="540" stroke="#777" stroke-width="0.8" />
<line x1="1495" y1="545.6" x2="1527" y2="545.6" stroke="#666" stroke-width="0.8" />
<rect x="1521.4" y="551" width="6.8" height="40.6" stroke="#000" stroke-width="1.6" fill="#fff" rx="0" />
<rect x="1524.5" y="550.3" width="4" height="41.7" fill="#000" rx="0"/>
<path d="M1528.3,584 V536 A47,47 0 1 1 1575,583.5 Z" stroke="#000" stroke-width="2.6" fill="#fff" />
<circle cx="1571.25" cy="533.1" r="35.8" stroke="#000" stroke-width="2.8" fill="none" />
<circle cx="1571.25" cy="533.1" r="31" stroke="#000" stroke-width="2.8" fill="none" />
<circle cx="1571.25" cy="533.1" r="25.8" stroke="#000" stroke-width="3.0" fill="none" />
<rect x="1562.4" y="523.75" width="23.4" height="3.6" stroke="#000" stroke-width="1.0" fill="#fff" rx="0" />
<line x1="1578" y1="524" x2="1578" y2="527.4" stroke="#000" stroke-width="0.8" />
<line x1="1571.25" y1="506" x2="1571.25" y2="613" stroke="#444" stroke-width="1.0" />
<line x1="1543.3" y1="584" x2="1543.3" y2="599" stroke="#000" stroke-width="4.4" />
<line x1="1597" y1="577.4" x2="1597" y2="599" stroke="#000" stroke-width="4.4" />
<line x1="1545.7" y1="588.3" x2="1594.7" y2="588.3" stroke="#000" stroke-width="2.0" />
<line x1="1545.7" y1="593.5" x2="1594.7" y2="593.5" stroke="#000" stroke-width="2.0" />
<text x="984" y="818" font-size="17.83" class="nt" text-anchor="start" fill="#000" textLength="9" lengthAdjust="spacingAndGlyphs" >1.</text>
<text x="1025.6" y="818" font-size="17.83" class="nt" text-anchor="start" fill="#000" textLength="364.4" lengthAdjust="spacingAndGlyphs" >Все размеры для справок , допустимое отклонение  ±100 мм.</text>
<text x="983" y="841" font-size="17.83" class="nt" text-anchor="start" fill="#000" textLength="9" lengthAdjust="spacingAndGlyphs" >2.</text>
<text x="1025.6" y="841" font-size="17.83" class="nt" text-anchor="start" fill="#000" textLength="552.4" lengthAdjust="spacingAndGlyphs" >На боковой стенке котла в области топочной камеры установлен пробоотборный штуцер</text>
<text x="983" y="864.4" font-size="17.83" class="nt" text-anchor="start" fill="#000" textLength="9" lengthAdjust="spacingAndGlyphs" >3.</text>
<text x="1025.6" y="864.4" font-size="17.83" class="nt" text-anchor="start" fill="#000" textLength="630.4" lengthAdjust="spacingAndGlyphs" >На   подводящей трубе котла , до запорной арматуры установлены :  манометр, прибор для измерения</text>
<text x="1025.6" y="888" font-size="17.83" class="nt" text-anchor="start" fill="#000" textLength="84.4" lengthAdjust="spacingAndGlyphs" >температуры.</text>
<text x="984" y="911.6" font-size="17.83" class="nt" text-anchor="start" fill="#000" textLength="9" lengthAdjust="spacingAndGlyphs" >4.</text>
<text x="1025.6" y="911.6" font-size="17.83" class="nt" text-anchor="start" fill="#000" textLength="611.4" lengthAdjust="spacingAndGlyphs" >На отводящей трубе котла ,до запорной арматуры установлены :  манометр, прибор для измерения</text>
<text x="1025.6" y="934.4" font-size="17.83" class="nt" text-anchor="start" fill="#000" textLength="618.4" lengthAdjust="spacingAndGlyphs" >температуры, предохранительный клапан  D у не менее  50 мм и обвод с обратным клапаном  D у не</text>
<text x="1025.6" y="958" font-size="17.83" class="nt" text-anchor="start" fill="#000" textLength="80.4" lengthAdjust="spacingAndGlyphs" >менее  50 мм.</text>
<text x="320.5" y="867.4" font-size="14.4" class="it" text-anchor="start" fill="#000" textLength="223.8" lengthAdjust="spacingAndGlyphs" >Техническая характеристика</text>
<line x1="128" y1="877.6" x2="788.5" y2="877.6" stroke="#000" stroke-width="2.3" />
<line x1="128" y1="915.5" x2="788.5" y2="915.5" stroke="#000" stroke-width="2.3" />
<line x1="128" y1="945.4" x2="788.5" y2="945.4" stroke="#000" stroke-width="2.3" />
<line x1="128" y1="975.1" x2="788.5" y2="975.1" stroke="#000" stroke-width="2.3" />
<line x1="128" y1="1004.7" x2="788.5" y2="1004.7" stroke="#000" stroke-width="2.3" />
<line x1="128" y1="1036.8" x2="788.5" y2="1036.8" stroke="#000" stroke-width="2.3" />
<line x1="128" y1="1065.5" x2="788.5" y2="1065.5" stroke="#000" stroke-width="2.3" />
<line x1="128" y1="1096" x2="788.5" y2="1096" stroke="#000" stroke-width="2.3" />
<line x1="128" y1="1125.7" x2="788.5" y2="1125.7" stroke="#000" stroke-width="2.3" />
<line x1="128" y1="1156" x2="788.5" y2="1156" stroke="#000" stroke-width="2.3" />
<line x1="492.8" y1="877.6" x2="492.8" y2="1184.5" stroke="#000" stroke-width="2.3" />
<line x1="624" y1="877.6" x2="624" y2="1184.5" stroke="#000" stroke-width="2.3" />
<line x1="788.5" y1="877.6" x2="788.5" y2="1184.5" stroke="#000" stroke-width="2.3" />
<text x="133" y="902.7" font-size="15.5" class="it" text-anchor="start" fill="#000" textLength="202.3" lengthAdjust="spacingAndGlyphs" >Наименование показателя</text>
<text x="526" y="892" font-size="15.09" class="it" text-anchor="start" fill="#000" textLength="61" lengthAdjust="spacingAndGlyphs" >Еденицы</text>
<text x="520.4" y="910.6" font-size="15.09" class="it" text-anchor="start" fill="#000" textLength="76.1" lengthAdjust="spacingAndGlyphs" >измерения</text>
<text x="680.8" y="902" font-size="15.09" class="it" text-anchor="start" fill="#000" textLength="68.8" lengthAdjust="spacingAndGlyphs" >Значение</text>
<text x="133.7" y="935.8" font-size="16.05" class="it" text-anchor="start" fill="#000" textLength="177.3" lengthAdjust="spacingAndGlyphs" >Номинальная мощность</text>
<text x="545" y="935.8" font-size="16.05" class="it" text-anchor="start" fill="#000" textLength="31" lengthAdjust="spacingAndGlyphs" >МВт</text>
<text x="697" y="935.8" font-size="16.05" class="it" text-anchor="start" fill="#000" textLength="21.4" lengthAdjust="spacingAndGlyphs" >1,2</text>
<text x="130" y="966.7" font-size="16.05" class="it" text-anchor="start" fill="#000" textLength="265.5" lengthAdjust="spacingAndGlyphs" >Диапазон рабочего регулирования</text>
<text x="547" y="966.7" font-size="16.05" class="it" text-anchor="start" fill="#000" textLength="13.7" lengthAdjust="spacingAndGlyphs" >%</text>
<text x="682.7" y="966.7" font-size="16.05" class="it" text-anchor="start" fill="#000" textLength="47.6" lengthAdjust="spacingAndGlyphs" >50-100</text>
<text x="132" y="996.2" font-size="16.05" class="it" text-anchor="start" fill="#000" textLength="95.5" lengthAdjust="spacingAndGlyphs" >Расход воды</text>
<text x="540.6" y="996.2" font-size="16.05" class="it" text-anchor="start" fill="#000" textLength="34.8" lengthAdjust="spacingAndGlyphs" >м3/ч</text>
<text x="698" y="996.2" font-size="16.05" class="it" text-anchor="start" fill="#000" textLength="19.5" lengthAdjust="spacingAndGlyphs" >41</text>
<text x="130.6" y="1027" font-size="16.05" class="it" text-anchor="start" fill="#000" textLength="179.4" lengthAdjust="spacingAndGlyphs" >Рабочее давление воды</text>
<text x="504.8" y="1027" font-size="16.05" class="it" text-anchor="start" fill="#000" textLength="105.5" lengthAdjust="spacingAndGlyphs" >МПа (кгс/см2)</text>
<text x="678" y="1027" font-size="16.05" class="it" text-anchor="start" fill="#000" textLength="58.7" lengthAdjust="spacingAndGlyphs" >0,6 (6,0)</text>
<text x="130" y="1057.6" font-size="16.05" class="it" text-anchor="start" fill="#000" textLength="290.8" lengthAdjust="spacingAndGlyphs" >Гидравлическое сопративление котла</text>
<text x="502" y="1057.6" font-size="16.05" class="it" text-anchor="start" fill="#000" textLength="105" lengthAdjust="spacingAndGlyphs" >МПа (кгс/см2)</text>
<text x="673.5" y="1057.6" font-size="16.05" class="it" text-anchor="start" fill="#000" textLength="67.8" lengthAdjust="spacingAndGlyphs" >0,06 (0,6)</text>
<text x="130" y="1087" font-size="16.05" class="it" text-anchor="start" fill="#000" textLength="226.4" lengthAdjust="spacingAndGlyphs" >Температура уходящих газов</text>
<text x="548.8" y="1087" font-size="16.05" class="it" text-anchor="start" fill="#000" textLength="15.6" lengthAdjust="spacingAndGlyphs" >°С</text>
<text x="660.7" y="1087" font-size="16.05" class="it" text-anchor="start" fill="#000" textLength="99.0" lengthAdjust="spacingAndGlyphs" >не более 250</text>
<text x="130" y="1116.7" font-size="16.05" class="it" text-anchor="start" fill="#000" textLength="327.8" lengthAdjust="spacingAndGlyphs" >Максимальная рабочая температура воды</text>
<text x="548" y="1116.7" font-size="16.05" class="it" text-anchor="start" fill="#000" textLength="16" lengthAdjust="spacingAndGlyphs" >°С</text>
<text x="698" y="1116.7" font-size="16.05" class="it" text-anchor="start" fill="#000" textLength="18.6" lengthAdjust="spacingAndGlyphs" >115</text>
<text x="131" y="1146.2" font-size="16.05" class="it" text-anchor="start" fill="#000" textLength="244.4" lengthAdjust="spacingAndGlyphs" >Температура воды (вход/выход)</text>
<text x="548" y="1146.2" font-size="16.05" class="it" text-anchor="start" fill="#000" textLength="16" lengthAdjust="spacingAndGlyphs" >°С</text>
<text x="687" y="1146.2" font-size="16.05" class="it" text-anchor="start" fill="#000" textLength="40.6" lengthAdjust="spacingAndGlyphs" >70/95</text>
<text x="132" y="1175.8" font-size="16.05" class="it" text-anchor="start" fill="#000" textLength="352.2" lengthAdjust="spacingAndGlyphs" >Габариты котла (длинна x ширина x высота)</text>
<text x="543.3" y="1175.8" font-size="16.05" class="it" text-anchor="start" fill="#000" textLength="19.3" lengthAdjust="spacingAndGlyphs" >мм</text>
<text x="648.75" y="1175.8" font-size="16.05" class="it" text-anchor="start" fill="#000" textLength="116.45" lengthAdjust="spacingAndGlyphs" >3295x1605x2050</text>
<line x1="1023.4" y1="974" x2="1733.5" y2="974" stroke="#000" stroke-width="3.0" />
<line x1="1023.4" y1="972.5" x2="1023.4" y2="1184.5" stroke="#000" stroke-width="2.6" />
<line x1="1088" y1="974" x2="1088" y2="1184.5" stroke="#000" stroke-width="2.6" />
<line x1="1176.4" y1="974" x2="1176.4" y2="1184.5" stroke="#000" stroke-width="2.6" />
<line x1="1234" y1="974" x2="1234" y2="1184.5" stroke="#000" stroke-width="2.6" />
<line x1="1272.4" y1="974" x2="1272.4" y2="1184.5" stroke="#000" stroke-width="2.6" />
<line x1="1050" y1="974" x2="1050" y2="1069.6" stroke="#000" stroke-width="2.6" />
<line x1="1023.4" y1="993" x2="1272.4" y2="993" stroke="#000" stroke-width="1.6" />
<line x1="1023.4" y1="1012" x2="1272.4" y2="1012" stroke="#000" stroke-width="1.6" />
<line x1="1023.4" y1="1031" x2="1272.4" y2="1031" stroke="#000" stroke-width="1.6" />
<line x1="1023.4" y1="1050.4" x2="1272.4" y2="1050.4" stroke="#000" stroke-width="2.6" />
<line x1="1023.4" y1="1069.6" x2="1272.4" y2="1069.6" stroke="#000" stroke-width="2.6" />
<line x1="1023.4" y1="1089" x2="1272.4" y2="1089" stroke="#000" stroke-width="1.6" />
<line x1="1023.4" y1="1108" x2="1272.4" y2="1108" stroke="#000" stroke-width="1.6" />
<line x1="1023.4" y1="1127" x2="1272.4" y2="1127" stroke="#000" stroke-width="1.6" />
<line x1="1023.4" y1="1146.4" x2="1272.4" y2="1146.4" stroke="#000" stroke-width="1.6" />
<line x1="1023.4" y1="1165.4" x2="1272.4" y2="1165.4" stroke="#000" stroke-width="1.6" />
<line x1="1272.4" y1="1031.4" x2="1733.5" y2="1031.4" stroke="#000" stroke-width="2.6" />
<line x1="1272.4" y1="1126.6" x2="1733.5" y2="1126.6" stroke="#000" stroke-width="2.6" />
<line x1="1540" y1="1031.4" x2="1540" y2="1184.5" stroke="#000" stroke-width="2.6" />
<line x1="1543" y1="1031.4" x2="1543" y2="1126.6" stroke="#000" stroke-width="1.4" />
<line x1="1543" y1="1049" x2="1733.5" y2="1049" stroke="#000" stroke-width="2.6" />
<line x1="1543" y1="1108" x2="1733.5" y2="1108" stroke="#000" stroke-width="2.6" />
<line x1="1561" y1="1049" x2="1561" y2="1108" stroke="#000" stroke-width="1.6" />
<line x1="1580" y1="1049" x2="1580" y2="1108" stroke="#000" stroke-width="1.6" />
<line x1="1598" y1="1031.4" x2="1598" y2="1108" stroke="#000" stroke-width="2.6" />
<line x1="1664" y1="1031.4" x2="1664" y2="1108" stroke="#000" stroke-width="2.6" />
<line x1="1618" y1="1108" x2="1618" y2="1126.6" stroke="#000" stroke-width="2.6" />
<text x="1025" y="1066" font-size="15.09" class="it" text-anchor="start" fill="#000" textLength="25" lengthAdjust="spacingAndGlyphs" >Изм.</text>
<text x="1053" y="1066" font-size="15.09" class="it" text-anchor="start" fill="#000" textLength="34" lengthAdjust="spacingAndGlyphs" >Лист</text>
<text x="1108" y="1066" font-size="15.09" class="it" text-anchor="start" fill="#000" textLength="60" lengthAdjust="spacingAndGlyphs" >N докум.</text>
<text x="1190" y="1066" font-size="15.09" class="it" text-anchor="start" fill="#000" textLength="35" lengthAdjust="spacingAndGlyphs" >Подп.</text>
<text x="1237" y="1066" font-size="15.09" class="it" text-anchor="start" fill="#000" textLength="35" lengthAdjust="spacingAndGlyphs" >Дата</text>
<text x="1029" y="1085" font-size="15.09" class="it" text-anchor="start" fill="#000" textLength="54" lengthAdjust="spacingAndGlyphs" >Разраб.</text>
<text x="1029" y="1104" font-size="15.09" class="it" text-anchor="start" fill="#000" textLength="35" lengthAdjust="spacingAndGlyphs" >Пров.</text>
<text x="1030" y="1123" font-size="15.09" class="it" text-anchor="start" fill="#000" textLength="56" lengthAdjust="spacingAndGlyphs" >Т.контр.</text>
<text x="1029" y="1162" font-size="15.09" class="it" text-anchor="start" fill="#000" textLength="57" lengthAdjust="spacingAndGlyphs" >Н.контр.</text>
<text x="1030" y="1181" font-size="15.09" class="it" text-anchor="start" fill="#000" textLength="28" lengthAdjust="spacingAndGlyphs" >Утв.</text>
<text x="1330" y="1013.6" font-size="32.37" class="itb" text-anchor="start" fill="#000" textLength="344" lengthAdjust="spacingAndGlyphs" >КВТУ.100.101.00.000  ВО</text>
<text x="1333" y="1062" font-size="15.09" class="it" text-anchor="start" fill="#000" textLength="147" lengthAdjust="spacingAndGlyphs" >Котел водогрейный</text>
<text x="1295" y="1083.6" font-size="15.09" class="it" text-anchor="start" fill="#000" textLength="223" lengthAdjust="spacingAndGlyphs" >Heatexpert- КВр -1,2- К ( РВР )</text>
<text x="1307" y="1103" font-size="15.09" class="it" text-anchor="start" fill="#000" textLength="198" lengthAdjust="spacingAndGlyphs" >по техническому заданию</text>
<text x="1556" y="1046" font-size="13.03" class="it" text-anchor="start" fill="#000" textLength="30" lengthAdjust="spacingAndGlyphs" >Лит.</text>
<text x="1612" y="1046" font-size="13.03" class="it" text-anchor="start" fill="#000" textLength="40" lengthAdjust="spacingAndGlyphs" >Масса</text>
<text x="1668" y="1046" font-size="13.03" class="it" text-anchor="start" fill="#000" textLength="64" lengthAdjust="spacingAndGlyphs" >Масштаб</text>
<text x="1545" y="1085" font-size="17.83" class="it" text-anchor="start" fill="#000" textLength="11" lengthAdjust="spacingAndGlyphs" >И</text>
<text x="1689" y="1082.4" font-size="17.01" class="it" text-anchor="start" fill="#000" textLength="29" lengthAdjust="spacingAndGlyphs" >1:20</text>
<text x="1553" y="1123" font-size="13.03" class="it" text-anchor="start" fill="#000" textLength="33" lengthAdjust="spacingAndGlyphs" >Лист</text>
<text x="1599" y="1123" font-size="13.03" class="it" text-anchor="start" fill="#000" textLength="6" lengthAdjust="spacingAndGlyphs" >1</text>
<text x="1626" y="1123" font-size="13.03" class="it" text-anchor="start" fill="#000" textLength="49" lengthAdjust="spacingAndGlyphs" >Листов</text>
<text x="1702" y="1123" font-size="13.03" class="it" text-anchor="start" fill="#000" textLength="8" lengthAdjust="spacingAndGlyphs" >2</text>
<text x="1611" y="1197" font-size="15.09" class="it" text-anchor="start" fill="#000" textLength="90" lengthAdjust="spacingAndGlyphs" >Формат  А3</text>
<rect x="1543" y="1139" width="30" height="8.5" rx="4" fill="#000"/>
<rect x="1543" y="1148" width="30" height="8.5" rx="4" fill="#000"/>
<rect x="1543" y="1157" width="30" height="8.5" rx="4" fill="#000"/>
<rect x="1543" y="1166" width="30" height="8.5" rx="4" fill="#000"/>
<rect x="1543" y="1139" width="6" height="36" fill="#000" rx="0"/>
<line x1="1549" y1="1147" x2="1571" y2="1143" stroke="#666" stroke-width="0.8" />
<line x1="1549" y1="1156" x2="1571" y2="1152" stroke="#666" stroke-width="0.8" />
<line x1="1549" y1="1165" x2="1571" y2="1161" stroke="#666" stroke-width="0.8" />
<text x="1579" y="1172.6" font-size="45.82" class="bd" text-anchor="start" fill="#000" textLength="66" lengthAdjust="spacingAndGlyphs" stroke="#000" stroke-width="2.2">KVZR</text>
<text x="1654" y="1155" font-size="13.72" class="rg" text-anchor="start" fill="#000" textLength="72" lengthAdjust="spacingAndGlyphs" >КОТЕЛЬНЫЙ</text>
<text x="1654" y="1172.4" font-size="13.72" class="rg" text-anchor="start" fill="#000" textLength="71" lengthAdjust="spacingAndGlyphs" >ЗАВОД РЭП</text>
<text x="77" y="36.5" font-size="14" class="wm" text-anchor="middle" transform="rotate(-26 77 32)" textLength="64" lengthAdjust="spacingAndGlyphs">kotel-kv.ru</text>
<text x="77" y="206.5" font-size="14" class="wm" text-anchor="middle" transform="rotate(-26 77 202)" textLength="64" lengthAdjust="spacingAndGlyphs">kotel-kv.ru</text>
<text x="77" y="377.5" font-size="14" class="wm" text-anchor="middle" transform="rotate(-26 77 373)" textLength="64" lengthAdjust="spacingAndGlyphs">kotel-kv.ru</text>
<text x="77" y="549.5" font-size="14" class="wm" text-anchor="middle" transform="rotate(-26 77 545)" textLength="64" lengthAdjust="spacingAndGlyphs">kotel-kv.ru</text>
<text x="77" y="720.5" font-size="14" class="wm" text-anchor="middle" transform="rotate(-26 77 716)" textLength="64" lengthAdjust="spacingAndGlyphs">kotel-kv.ru</text>
<text x="77" y="892.5" font-size="14" class="wm" text-anchor="middle" transform="rotate(-26 77 888)" textLength="64" lengthAdjust="spacingAndGlyphs">kotel-kv.ru</text>
<text x="77" y="1061.5" font-size="14" class="wm" text-anchor="middle" transform="rotate(-26 77 1057)" textLength="64" lengthAdjust="spacingAndGlyphs">kotel-kv.ru</text>
<text x="335" y="36.5" font-size="14" class="wm" text-anchor="middle" transform="rotate(-26 335 32)" textLength="64" lengthAdjust="spacingAndGlyphs">kotel-kv.ru</text>
<text x="335" y="206.5" font-size="14" class="wm" text-anchor="middle" transform="rotate(-26 335 202)" textLength="64" lengthAdjust="spacingAndGlyphs">kotel-kv.ru</text>
<text x="335" y="377.5" font-size="14" class="wm" text-anchor="middle" transform="rotate(-26 335 373)" textLength="64" lengthAdjust="spacingAndGlyphs">kotel-kv.ru</text>
<text x="335" y="549.5" font-size="14" class="wm" text-anchor="middle" transform="rotate(-26 335 545)" textLength="64" lengthAdjust="spacingAndGlyphs">kotel-kv.ru</text>
<text x="335" y="720.5" font-size="14" class="wm" text-anchor="middle" transform="rotate(-26 335 716)" textLength="64" lengthAdjust="spacingAndGlyphs">kotel-kv.ru</text>
<text x="335" y="892.5" font-size="14" class="wm" text-anchor="middle" transform="rotate(-26 335 888)" textLength="64" lengthAdjust="spacingAndGlyphs">kotel-kv.ru</text>
<text x="335" y="1061.5" font-size="14" class="wm" text-anchor="middle" transform="rotate(-26 335 1057)" textLength="64" lengthAdjust="spacingAndGlyphs">kotel-kv.ru</text>
<text x="591" y="36.5" font-size="14" class="wm" text-anchor="middle" transform="rotate(-26 591 32)" textLength="64" lengthAdjust="spacingAndGlyphs">kotel-kv.ru</text>
<text x="591" y="206.5" font-size="14" class="wm" text-anchor="middle" transform="rotate(-26 591 202)" textLength="64" lengthAdjust="spacingAndGlyphs">kotel-kv.ru</text>
<text x="591" y="377.5" font-size="14" class="wm" text-anchor="middle" transform="rotate(-26 591 373)" textLength="64" lengthAdjust="spacingAndGlyphs">kotel-kv.ru</text>
<text x="591" y="549.5" font-size="14" class="wm" text-anchor="middle" transform="rotate(-26 591 545)" textLength="64" lengthAdjust="spacingAndGlyphs">kotel-kv.ru</text>
<text x="591" y="720.5" font-size="14" class="wm" text-anchor="middle" transform="rotate(-26 591 716)" textLength="64" lengthAdjust="spacingAndGlyphs">kotel-kv.ru</text>
<text x="591" y="892.5" font-size="14" class="wm" text-anchor="middle" transform="rotate(-26 591 888)" textLength="64" lengthAdjust="spacingAndGlyphs">kotel-kv.ru</text>
<text x="591" y="1061.5" font-size="14" class="wm" text-anchor="middle" transform="rotate(-26 591 1057)" textLength="64" lengthAdjust="spacingAndGlyphs">kotel-kv.ru</text>
<text x="849" y="36.5" font-size="14" class="wm" text-anchor="middle" transform="rotate(-26 849 32)" textLength="64" lengthAdjust="spacingAndGlyphs">kotel-kv.ru</text>
<text x="849" y="206.5" font-size="14" class="wm" text-anchor="middle" transform="rotate(-26 849 202)" textLength="64" lengthAdjust="spacingAndGlyphs">kotel-kv.ru</text>
<text x="849" y="377.5" font-size="14" class="wm" text-anchor="middle" transform="rotate(-26 849 373)" textLength="64" lengthAdjust="spacingAndGlyphs">kotel-kv.ru</text>
<text x="849" y="549.5" font-size="14" class="wm" text-anchor="middle" transform="rotate(-26 849 545)" textLength="64" lengthAdjust="spacingAndGlyphs">kotel-kv.ru</text>
<text x="849" y="720.5" font-size="14" class="wm" text-anchor="middle" transform="rotate(-26 849 716)" textLength="64" lengthAdjust="spacingAndGlyphs">kotel-kv.ru</text>
<text x="849" y="892.5" font-size="14" class="wm" text-anchor="middle" transform="rotate(-26 849 888)" textLength="64" lengthAdjust="spacingAndGlyphs">kotel-kv.ru</text>
<text x="849" y="1061.5" font-size="14" class="wm" text-anchor="middle" transform="rotate(-26 849 1057)" textLength="64" lengthAdjust="spacingAndGlyphs">kotel-kv.ru</text>
<text x="1105" y="36.5" font-size="14" class="wm" text-anchor="middle" transform="rotate(-26 1105 32)" textLength="64" lengthAdjust="spacingAndGlyphs">kotel-kv.ru</text>
<text x="1105" y="206.5" font-size="14" class="wm" text-anchor="middle" transform="rotate(-26 1105 202)" textLength="64" lengthAdjust="spacingAndGlyphs">kotel-kv.ru</text>
<text x="1105" y="377.5" font-size="14" class="wm" text-anchor="middle" transform="rotate(-26 1105 373)" textLength="64" lengthAdjust="spacingAndGlyphs">kotel-kv.ru</text>
<text x="1105" y="549.5" font-size="14" class="wm" text-anchor="middle" transform="rotate(-26 1105 545)" textLength="64" lengthAdjust="spacingAndGlyphs">kotel-kv.ru</text>
<text x="1105" y="720.5" font-size="14" class="wm" text-anchor="middle" transform="rotate(-26 1105 716)" textLength="64" lengthAdjust="spacingAndGlyphs">kotel-kv.ru</text>
<text x="1105" y="892.5" font-size="14" class="wm" text-anchor="middle" transform="rotate(-26 1105 888)" textLength="64" lengthAdjust="spacingAndGlyphs">kotel-kv.ru</text>
<text x="1105" y="1061.5" font-size="14" class="wm" text-anchor="middle" transform="rotate(-26 1105 1057)" textLength="64" lengthAdjust="spacingAndGlyphs">kotel-kv.ru</text>
<text x="1362" y="36.5" font-size="14" class="wm" text-anchor="middle" transform="rotate(-26 1362 32)" textLength="64" lengthAdjust="spacingAndGlyphs">kotel-kv.ru</text>
<text x="1362" y="206.5" font-size="14" class="wm" text-anchor="middle" transform="rotate(-26 1362 202)" textLength="64" lengthAdjust="spacingAndGlyphs">kotel-kv.ru</text>
<text x="1362" y="377.5" font-size="14" class="wm" text-anchor="middle" transform="rotate(-26 1362 373)" textLength="64" lengthAdjust="spacingAndGlyphs">kotel-kv.ru</text>
<text x="1362" y="549.5" font-size="14" class="wm" text-anchor="middle" transform="rotate(-26 1362 545)" textLength="64" lengthAdjust="spacingAndGlyphs">kotel-kv.ru</text>
<text x="1362" y="720.5" font-size="14" class="wm" text-anchor="middle" transform="rotate(-26 1362 716)" textLength="64" lengthAdjust="spacingAndGlyphs">kotel-kv.ru</text>
<text x="1362" y="892.5" font-size="14" class="wm" text-anchor="middle" transform="rotate(-26 1362 888)" textLength="64" lengthAdjust="spacingAndGlyphs">kotel-kv.ru</text>
<text x="1362" y="1061.5" font-size="14" class="wm" text-anchor="middle" transform="rotate(-26 1362 1057)" textLength="64" lengthAdjust="spacingAndGlyphs">kotel-kv.ru</text>
<text x="1620" y="36.5" font-size="14" class="wm" text-anchor="middle" transform="rotate(-26 1620 32)" textLength="64" lengthAdjust="spacingAndGlyphs">kotel-kv.ru</text>
<text x="1620" y="206.5" font-size="14" class="wm" text-anchor="middle" transform="rotate(-26 1620 202)" textLength="64" lengthAdjust="spacingAndGlyphs">kotel-kv.ru</text>
<text x="1620" y="377.5" font-size="14" class="wm" text-anchor="middle" transform="rotate(-26 1620 373)" textLength="64" lengthAdjust="spacingAndGlyphs">kotel-kv.ru</text>
<text x="1620" y="549.5" font-size="14" class="wm" text-anchor="middle" transform="rotate(-26 1620 545)" textLength="64" lengthAdjust="spacingAndGlyphs">kotel-kv.ru</text>
<text x="1620" y="720.5" font-size="14" class="wm" text-anchor="middle" transform="rotate(-26 1620 716)" textLength="64" lengthAdjust="spacingAndGlyphs">kotel-kv.ru</text>
<text x="1620" y="892.5" font-size="14" class="wm" text-anchor="middle" transform="rotate(-26 1620 888)" textLength="64" lengthAdjust="spacingAndGlyphs">kotel-kv.ru</text>
<text x="1620" y="1061.5" font-size="14" class="wm" text-anchor="middle" transform="rotate(-26 1620 1057)" textLength="64" lengthAdjust="spacingAndGlyphs">kotel-kv.ru</text>
</g>
</svg>
</body></html>
